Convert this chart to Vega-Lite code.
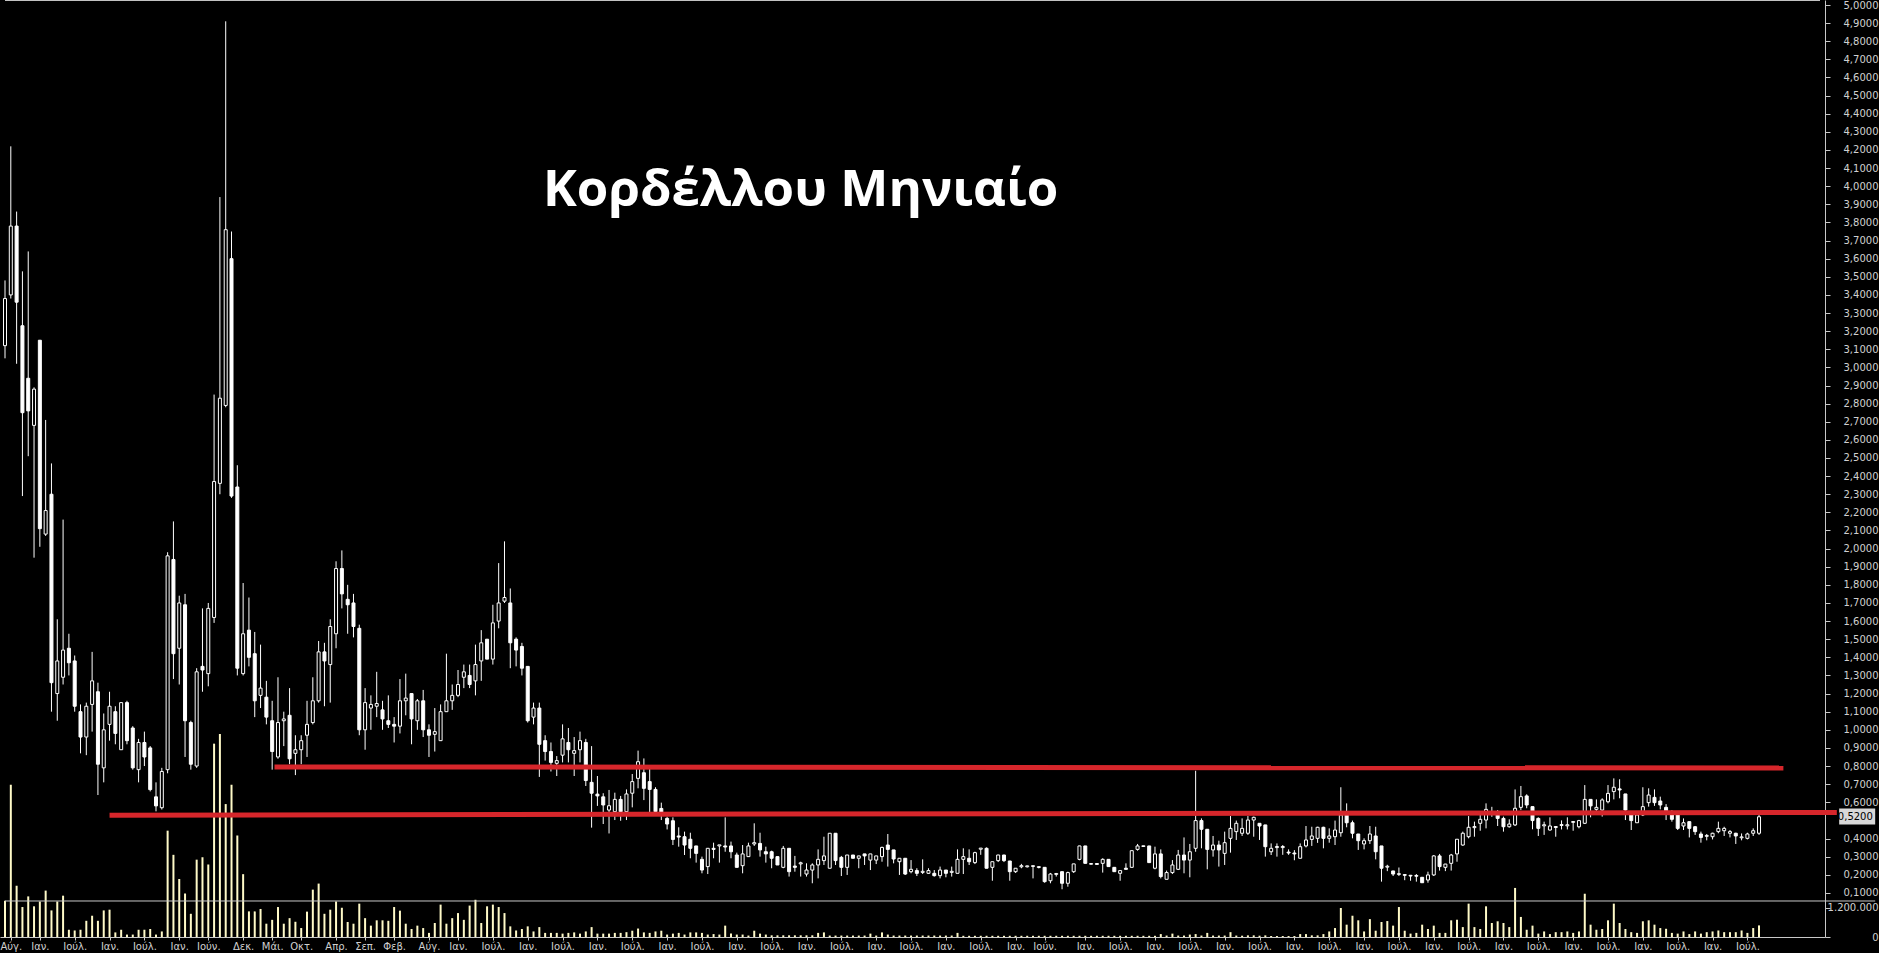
{
"$schema": "https://vega.github.io/schema/vega-lite/v6.json",
"width": 1825, "height": 937, "autosize": "none",
"padding": {"left": 0, "top": 0, "right": 54, "bottom": 16},
"background": "#000000",
"config": {"view": {"stroke": null}},
"datasets": {
"bars": [
{"i":0,"o":3.12,"h":3.48,"l":3.05,"c":3.38,"v":1500000},
{"i":1,"o":3.40,"h":4.22,"l":3.38,"c":3.78,"v":6300000},
{"i":2,"o":3.78,"h":3.86,"l":3.02,"c":3.36,"v":2120000},
{"i":3,"o":3.23,"h":3.53,"l":2.29,"c":2.75,"v":1240000},
{"i":4,"o":2.94,"h":3.64,"l":2.51,"c":2.76,"v":1680000},
{"i":5,"o":2.68,"h":2.89,"l":1.95,"c":2.88,"v":1270000},
{"i":6,"o":3.15,"h":3.15,"l":2.01,"c":2.11,"v":1470000},
{"i":7,"o":2.08,"h":2.71,"l":2.07,"c":2.21,"v":1920000},
{"i":8,"o":2.30,"h":2.47,"l":1.10,"c":1.26,"v":1100000},
{"i":9,"o":1.20,"h":1.61,"l":1.05,"c":1.38,"v":1470000},
{"i":10,"o":1.29,"h":2.16,"l":1.25,"c":1.44,"v":1710000},
{"i":11,"o":1.45,"h":1.53,"l":1.30,"c":1.37,"v":300000},
{"i":12,"o":1.38,"h":1.41,"l":1.10,"c":1.13,"v":270000},
{"i":13,"o":1.10,"h":1.14,"l":0.87,"c":0.96,"v":300000},
{"i":14,"o":0.96,"h":1.15,"l":0.86,"c":1.13,"v":670000},
{"i":15,"o":1.14,"h":1.43,"l":0.99,"c":1.27,"v":880000},
{"i":16,"o":1.21,"h":1.26,"l":0.64,"c":0.81,"v":670000},
{"i":17,"o":0.79,"h":1.09,"l":0.71,"c":1.00,"v":1100000},
{"i":18,"o":1.03,"h":1.21,"l":0.94,"c":1.13,"v":1130000},
{"i":19,"o":1.10,"h":1.13,"l":0.92,"c":0.98,"v":190000},
{"i":20,"o":0.89,"h":1.15,"l":0.89,"c":1.15,"v":300000},
{"i":21,"o":1.15,"h":1.16,"l":0.92,"c":0.94,"v":100000},
{"i":22,"o":1.01,"h":1.02,"l":0.78,"c":0.79,"v":100000},
{"i":23,"o":0.78,"h":0.95,"l":0.71,"c":0.93,"v":300000},
{"i":24,"o":0.93,"h":0.99,"l":0.80,"c":0.85,"v":300000},
{"i":25,"o":0.90,"h":0.91,"l":0.66,"c":0.67,"v":330000},
{"i":26,"o":0.63,"h":0.71,"l":0.55,"c":0.58,"v":100000},
{"i":27,"o":0.57,"h":0.79,"l":0.56,"c":0.77,"v":230000},
{"i":28,"o":0.78,"h":1.98,"l":0.76,"c":1.96,"v":4400000},
{"i":29,"o":1.94,"h":2.15,"l":1.28,"c":1.42,"v":3400000},
{"i":30,"o":1.45,"h":1.74,"l":1.25,"c":1.70,"v":2400000},
{"i":31,"o":1.69,"h":1.75,"l":0.85,"c":1.05,"v":1800000},
{"i":32,"o":1.04,"h":1.05,"l":0.78,"c":0.81,"v":960000},
{"i":33,"o":0.80,"h":1.34,"l":0.79,"c":1.32,"v":3200000},
{"i":34,"o":1.35,"h":1.67,"l":1.21,"c":1.33,"v":3300000},
{"i":35,"o":1.31,"h":1.70,"l":1.24,"c":1.67,"v":3000000},
{"i":36,"o":1.62,"h":2.85,"l":1.59,"c":2.37,"v":8000000},
{"i":37,"o":2.36,"h":3.94,"l":2.30,"c":2.83,"v":8400000},
{"i":38,"o":2.79,"h":4.91,"l":2.78,"c":3.76,"v":5500000},
{"i":39,"o":3.60,"h":3.75,"l":2.28,"c":2.29,"v":6300000},
{"i":40,"o":2.34,"h":2.46,"l":1.30,"c":1.34,"v":4200000},
{"i":41,"o":1.31,"h":1.81,"l":1.30,"c":1.53,"v":2600000},
{"i":42,"o":1.55,"h":1.73,"l":1.35,"c":1.40,"v":1060000},
{"i":43,"o":1.42,"h":1.54,"l":1.07,"c":1.16,"v":1060000},
{"i":44,"o":1.19,"h":1.47,"l":1.12,"c":1.23,"v":1160000},
{"i":45,"o":1.18,"h":1.27,"l":1.03,"c":1.07,"v":550000},
{"i":46,"o":1.05,"h":1.16,"l":0.78,"c":0.88,"v":710000},
{"i":47,"o":0.85,"h":1.29,"l":0.84,"c":1.04,"v":1240000},
{"i":48,"o":1.05,"h":1.10,"l":0.91,"c":1.06,"v":550000},
{"i":49,"o":1.08,"h":1.23,"l":0.81,"c":0.84,"v":780000},
{"i":50,"o":0.87,"h":0.97,"l":0.75,"c":0.89,"v":630000},
{"i":51,"o":0.89,"h":0.97,"l":0.81,"c":0.94,"v":370000},
{"i":52,"o":0.97,"h":1.16,"l":0.85,"c":1.03,"v":1050000},
{"i":53,"o":1.04,"h":1.29,"l":1.03,"c":1.16,"v":1960000},
{"i":54,"o":1.16,"h":1.49,"l":1.15,"c":1.43,"v":2210000},
{"i":55,"o":1.43,"h":1.48,"l":1.13,"c":1.38,"v":960000},
{"i":56,"o":1.36,"h":1.61,"l":1.15,"c":1.57,"v":1130000},
{"i":57,"o":1.53,"h":1.93,"l":1.45,"c":1.89,"v":1470000},
{"i":58,"o":1.89,"h":1.99,"l":1.67,"c":1.75,"v":1210000},
{"i":59,"o":1.72,"h":1.80,"l":1.53,"c":1.69,"v":620000},
{"i":60,"o":1.70,"h":1.75,"l":1.51,"c":1.57,"v":550000},
{"i":61,"o":1.56,"h":1.58,"l":0.97,"c":1.00,"v":1380000},
{"i":62,"o":1.00,"h":1.23,"l":0.89,"c":1.15,"v":780000},
{"i":63,"o":1.12,"h":1.19,"l":1.00,"c":1.14,"v":470000},
{"i":64,"o":1.13,"h":1.32,"l":1.07,"c":1.145,"v":690000},
{"i":65,"o":1.11,"h":1.16,"l":1.00,"c":1.06,"v":690000},
{"i":66,"o":1.05,"h":1.19,"l":1.01,"c":1.03,"v":670000},
{"i":67,"o":1.03,"h":1.07,"l":0.93,"c":1.02,"v":1240000},
{"i":68,"o":1.02,"h":1.28,"l":0.98,"c":1.16,"v":1090000},
{"i":69,"o":1.16,"h":1.31,"l":1.08,"c":1.175,"v":550000},
{"i":70,"o":1.20,"h":1.20,"l":0.92,"c":1.06,"v":330000},
{"i":71,"o":1.05,"h":1.17,"l":1.00,"c":1.16,"v":470000},
{"i":72,"o":1.16,"h":1.22,"l":0.96,"c":1.00,"v":370000},
{"i":73,"o":1.00,"h":1.03,"l":0.85,"c":0.97,"v":170000},
{"i":74,"o":0.975,"h":1.12,"l":0.88,"c":0.99,"v":580000},
{"i":75,"o":0.94,"h":1.14,"l":0.94,"c":1.10,"v":1340000},
{"i":76,"o":1.10,"h":1.42,"l":1.10,"c":1.16,"v":550000},
{"i":77,"o":1.16,"h":1.25,"l":1.11,"c":1.19,"v":780000},
{"i":78,"o":1.19,"h":1.33,"l":1.18,"c":1.25,"v":990000},
{"i":79,"o":1.29,"h":1.36,"l":1.23,"c":1.32,"v":710000},
{"i":80,"o":1.30,"h":1.36,"l":1.23,"c":1.25,"v":1300000},
{"i":81,"o":1.27,"h":1.47,"l":1.19,"c":1.36,"v":1540000},
{"i":82,"o":1.38,"h":1.55,"l":1.27,"c":1.48,"v":580000},
{"i":83,"o":1.50,"h":1.50,"l":1.39,"c":1.39,"v":1270000},
{"i":84,"o":1.39,"h":1.69,"l":1.36,"c":1.59,"v":1340000},
{"i":85,"o":1.60,"h":1.92,"l":1.56,"c":1.70,"v":1240000},
{"i":86,"o":1.71,"h":2.04,"l":1.70,"c":1.73,"v":990000},
{"i":87,"o":1.70,"h":1.78,"l":1.34,"c":1.48,"v":440000},
{"i":88,"o":1.50,"h":1.51,"l":1.35,"c":1.44,"v":270000},
{"i":89,"o":1.46,"h":1.48,"l":1.30,"c":1.34,"v":330000},
{"i":90,"o":1.35,"h":1.35,"l":1.04,"c":1.05,"v":440000},
{"i":91,"o":1.07,"h":1.15,"l":1.03,"c":1.12,"v":230000},
{"i":92,"o":1.12,"h":1.15,"l":0.74,"c":0.92,"v":410000},
{"i":93,"o":0.94,"h":0.97,"l":0.83,"c":0.88,"v":170000},
{"i":94,"o":0.88,"h":0.93,"l":0.77,"c":0.82,"v":170000},
{"i":95,"o":0.815,"h":0.855,"l":0.745,"c":0.83,"v":170000},
{"i":96,"o":0.86,"h":1.03,"l":0.82,"c":0.95,"v":140000},
{"i":97,"o":0.93,"h":1.01,"l":0.82,"c":0.89,"v":170000},
{"i":98,"o":0.87,"h":0.96,"l":0.745,"c":0.885,"v":190000},
{"i":99,"o":0.89,"h":0.99,"l":0.82,"c":0.94,"v":140000},
{"i":100,"o":0.93,"h":0.95,"l":0.69,"c":0.72,"v":230000},
{"i":101,"o":0.71,"h":0.91,"l":0.46,"c":0.65,"v":410000},
{"i":102,"o":0.645,"h":0.745,"l":0.58,"c":0.635,"v":140000},
{"i":103,"o":0.63,"h":0.65,"l":0.48,"c":0.585,"v":140000},
{"i":104,"o":0.557,"h":0.668,"l":0.428,"c":0.581,"v":140000},
{"i":105,"o":0.548,"h":0.653,"l":0.502,"c":0.616,"v":170000},
{"i":106,"o":0.616,"h":0.635,"l":0.498,"c":0.548,"v":170000},
{"i":107,"o":0.548,"h":0.671,"l":0.502,"c":0.646,"v":200000},
{"i":108,"o":0.65,"h":0.756,"l":0.572,"c":0.714,"v":260000},
{"i":109,"o":0.732,"h":0.885,"l":0.677,"c":0.824,"v":350000},
{"i":110,"o":0.763,"h":0.842,"l":0.612,"c":0.677,"v":190000},
{"i":111,"o":0.714,"h":0.793,"l":0.539,"c":0.671,"v":170000},
{"i":112,"o":0.671,"h":0.683,"l":0.545,"c":0.548,"v":230000},
{"i":113,"o":0.566,"h":0.598,"l":0.502,"c":0.539,"v":260000},
{"i":114,"o":0.511,"h":0.52,"l":0.45,"c":0.48,"v":100000},
{"i":115,"o":0.498,"h":0.517,"l":0.364,"c":0.395,"v":140000},
{"i":116,"o":0.414,"h":0.462,"l":0.355,"c":0.408,"v":170000},
{"i":117,"o":0.41,"h":0.438,"l":0.309,"c":0.364,"v":100000},
{"i":118,"o":0.396,"h":0.432,"l":0.291,"c":0.346,"v":190000},
{"i":119,"o":0.359,"h":0.359,"l":0.267,"c":0.318,"v":190000},
{"i":120,"o":0.285,"h":0.30,"l":0.208,"c":0.226,"v":170000},
{"i":121,"o":0.245,"h":0.346,"l":0.204,"c":0.346,"v":100000},
{"i":122,"o":0.346,"h":0.377,"l":0.291,"c":0.34,"v":120000},
{"i":123,"o":0.359,"h":0.364,"l":0.267,"c":0.365,"v":100000},
{"i":124,"o":0.359,"h":0.517,"l":0.327,"c":0.353,"v":470000},
{"i":125,"o":0.359,"h":0.383,"l":0.291,"c":0.327,"v":140000},
{"i":126,"o":0.309,"h":0.322,"l":0.241,"c":0.241,"v":100000},
{"i":127,"o":0.25,"h":0.364,"l":0.208,"c":0.315,"v":100000},
{"i":128,"o":0.30,"h":0.377,"l":0.30,"c":0.359,"v":60000},
{"i":129,"o":0.37,"h":0.484,"l":0.359,"c":0.377,"v":260000},
{"i":130,"o":0.373,"h":0.432,"l":0.30,"c":0.337,"v":140000},
{"i":131,"o":0.327,"h":0.355,"l":0.267,"c":0.315,"v":100000},
{"i":132,"o":0.327,"h":0.333,"l":0.236,"c":0.291,"v":70000},
{"i":133,"o":0.30,"h":0.30,"l":0.254,"c":0.254,"v":70000},
{"i":134,"o":0.241,"h":0.359,"l":0.236,"c":0.346,"v":70000},
{"i":135,"o":0.346,"h":0.346,"l":0.19,"c":0.217,"v":70000},
{"i":136,"o":0.248,"h":0.304,"l":0.217,"c":0.241,"v":70000},
{"i":137,"o":0.26,"h":0.272,"l":0.19,"c":0.266,"v":70000},
{"i":138,"o":0.204,"h":0.263,"l":0.19,"c":0.226,"v":70000},
{"i":139,"o":0.226,"h":0.263,"l":0.153,"c":0.254,"v":70000},
{"i":140,"o":0.254,"h":0.34,"l":0.18,"c":0.285,"v":170000},
{"i":141,"o":0.278,"h":0.41,"l":0.254,"c":0.304,"v":190000},
{"i":142,"o":0.236,"h":0.429,"l":0.236,"c":0.429,"v":60000},
{"i":143,"o":0.429,"h":0.429,"l":0.254,"c":0.278,"v":60000},
{"i":144,"o":0.296,"h":0.304,"l":0.193,"c":0.241,"v":60000},
{"i":145,"o":0.241,"h":0.309,"l":0.199,"c":0.309,"v":60000},
{"i":146,"o":0.309,"h":0.309,"l":0.291,"c":0.291,"v":60000},
{"i":147,"o":0.291,"h":0.304,"l":0.236,"c":0.304,"v":60000},
{"i":148,"o":0.315,"h":0.315,"l":0.254,"c":0.304,"v":60000},
{"i":149,"o":0.281,"h":0.315,"l":0.226,"c":0.315,"v":140000},
{"i":150,"o":0.281,"h":0.304,"l":0.259,"c":0.304,"v":60000},
{"i":151,"o":0.30,"h":0.355,"l":0.272,"c":0.351,"v":190000},
{"i":152,"o":0.364,"h":0.425,"l":0.245,"c":0.34,"v":100000},
{"i":153,"o":0.337,"h":0.337,"l":0.263,"c":0.287,"v":60000},
{"i":154,"o":0.272,"h":0.291,"l":0.199,"c":0.291,"v":60000},
{"i":155,"o":0.291,"h":0.291,"l":0.199,"c":0.204,"v":60000},
{"i":156,"o":0.217,"h":0.281,"l":0.208,"c":0.23,"v":60000},
{"i":157,"o":0.223,"h":0.236,"l":0.193,"c":0.208,"v":60000},
{"i":158,"o":0.213,"h":0.285,"l":0.204,"c":0.219,"v":60000},
{"i":159,"o":0.208,"h":0.236,"l":0.205,"c":0.223,"v":60000},
{"i":160,"o":0.208,"h":0.226,"l":0.19,"c":0.195,"v":60000},
{"i":161,"o":0.195,"h":0.245,"l":0.18,"c":0.226,"v":60000},
{"i":162,"o":0.226,"h":0.226,"l":0.186,"c":0.208,"v":60000},
{"i":163,"o":0.213,"h":0.245,"l":0.19,"c":0.219,"v":60000},
{"i":164,"o":0.208,"h":0.34,"l":0.208,"c":0.285,"v":170000},
{"i":165,"o":0.285,"h":0.346,"l":0.204,"c":0.30,"v":50000},
{"i":166,"o":0.291,"h":0.34,"l":0.254,"c":0.272,"v":50000},
{"i":167,"o":0.267,"h":0.327,"l":0.259,"c":0.322,"v":50000},
{"i":168,"o":0.341,"h":0.346,"l":0.31,"c":0.347,"v":50000},
{"i":169,"o":0.346,"h":0.351,"l":0.236,"c":0.236,"v":50000},
{"i":170,"o":0.241,"h":0.272,"l":0.167,"c":0.272,"v":50000},
{"i":171,"o":0.278,"h":0.31,"l":0.27,"c":0.309,"v":50000},
{"i":172,"o":0.309,"h":0.31,"l":0.27,"c":0.278,"v":50000},
{"i":173,"o":0.276,"h":0.276,"l":0.167,"c":0.217,"v":50000},
{"i":174,"o":0.217,"h":0.236,"l":0.21,"c":0.236,"v":50000},
{"i":175,"o":0.244,"h":0.26,"l":0.236,"c":0.25,"v":50000},
{"i":176,"o":0.244,"h":0.25,"l":0.24,"c":0.249,"v":50000},
{"i":177,"o":0.246,"h":0.25,"l":0.18,"c":0.25,"v":50000},
{"i":178,"o":0.24,"h":0.245,"l":0.235,"c":0.245,"v":50000},
{"i":179,"o":0.241,"h":0.241,"l":0.156,"c":0.162,"v":50000},
{"i":180,"o":0.167,"h":0.21,"l":0.153,"c":0.204,"v":50000},
{"i":181,"o":0.202,"h":0.21,"l":0.19,"c":0.207,"v":50000},
{"i":182,"o":0.217,"h":0.217,"l":0.12,"c":0.153,"v":50000},
{"i":183,"o":0.153,"h":0.217,"l":0.134,"c":0.212,"v":50000},
{"i":184,"o":0.217,"h":0.26,"l":0.21,"c":0.26,"v":50000},
{"i":185,"o":0.285,"h":0.36,"l":0.28,"c":0.359,"v":50000},
{"i":186,"o":0.359,"h":0.359,"l":0.263,"c":0.263,"v":50000},
{"i":187,"o":0.258,"h":0.262,"l":0.256,"c":0.262,"v":50000},
{"i":188,"o":0.262,"h":0.264,"l":0.256,"c":0.257,"v":50000},
{"i":189,"o":0.263,"h":0.291,"l":0.212,"c":0.285,"v":50000},
{"i":190,"o":0.285,"h":0.285,"l":0.245,"c":0.245,"v":50000},
{"i":191,"o":0.241,"h":0.241,"l":0.217,"c":0.217,"v":50000},
{"i":192,"o":0.208,"h":0.223,"l":0.167,"c":0.223,"v":50000},
{"i":193,"o":0.236,"h":0.263,"l":0.23,"c":0.23,"v":50000},
{"i":194,"o":0.241,"h":0.333,"l":0.241,"c":0.333,"v":50000},
{"i":195,"o":0.34,"h":0.37,"l":0.333,"c":0.359,"v":50000},
{"i":196,"o":0.356,"h":0.36,"l":0.355,"c":0.36,"v":50000},
{"i":197,"o":0.359,"h":0.359,"l":0.267,"c":0.267,"v":50000},
{"i":198,"o":0.236,"h":0.355,"l":0.23,"c":0.315,"v":50000},
{"i":199,"o":0.315,"h":0.34,"l":0.18,"c":0.19,"v":120000},
{"i":200,"o":0.175,"h":0.223,"l":0.175,"c":0.212,"v":60000},
{"i":201,"o":0.212,"h":0.281,"l":0.204,"c":0.254,"v":140000},
{"i":202,"o":0.23,"h":0.337,"l":0.226,"c":0.309,"v":60000},
{"i":203,"o":0.309,"h":0.406,"l":0.208,"c":0.281,"v":60000},
{"i":204,"o":0.281,"h":0.37,"l":0.186,"c":0.327,"v":100000},
{"i":205,"o":0.346,"h":0.774,"l":0.327,"c":0.499,"v":120000},
{"i":206,"o":0.499,"h":0.511,"l":0.346,"c":0.451,"v":60000},
{"i":207,"o":0.451,"h":0.451,"l":0.23,"c":0.34,"v":170000},
{"i":208,"o":0.337,"h":0.414,"l":0.30,"c":0.364,"v":60000},
{"i":209,"o":0.364,"h":0.388,"l":0.245,"c":0.337,"v":60000},
{"i":210,"o":0.318,"h":0.438,"l":0.254,"c":0.377,"v":60000},
{"i":211,"o":0.401,"h":0.524,"l":0.322,"c":0.456,"v":200000},
{"i":212,"o":0.438,"h":0.499,"l":0.392,"c":0.484,"v":60000},
{"i":213,"o":0.429,"h":0.511,"l":0.414,"c":0.456,"v":54000},
{"i":214,"o":0.429,"h":0.524,"l":0.42,"c":0.502,"v":68000},
{"i":215,"o":0.502,"h":0.521,"l":0.41,"c":0.517,"v":68000},
{"i":216,"o":0.484,"h":0.484,"l":0.392,"c":0.469,"v":54000},
{"i":217,"o":0.475,"h":0.475,"l":0.30,"c":0.355,"v":68000},
{"i":218,"o":0.327,"h":0.373,"l":0.309,"c":0.346,"v":40000},
{"i":219,"o":0.35,"h":0.373,"l":0.30,"c":0.356,"v":40000},
{"i":220,"o":0.35,"h":0.364,"l":0.31,"c":0.356,"v":40000},
{"i":221,"o":0.325,"h":0.34,"l":0.31,"c":0.32,"v":40000},
{"i":222,"o":0.32,"h":0.336,"l":0.28,"c":0.315,"v":40000},
{"i":223,"o":0.291,"h":0.373,"l":0.291,"c":0.355,"v":120000},
{"i":224,"o":0.359,"h":0.469,"l":0.351,"c":0.392,"v":120000},
{"i":225,"o":0.395,"h":0.465,"l":0.359,"c":0.414,"v":68000},
{"i":226,"o":0.401,"h":0.465,"l":0.376,"c":0.462,"v":68000},
{"i":227,"o":0.462,"h":0.465,"l":0.346,"c":0.401,"v":120000},
{"i":228,"o":0.401,"h":0.456,"l":0.377,"c":0.414,"v":230000},
{"i":229,"o":0.41,"h":0.499,"l":0.364,"c":0.447,"v":370000},
{"i":230,"o":0.432,"h":0.683,"l":0.41,"c":0.53,"v":1200000},
{"i":231,"o":0.53,"h":0.594,"l":0.462,"c":0.487,"v":510000},
{"i":232,"o":0.487,"h":0.499,"l":0.401,"c":0.429,"v":880000},
{"i":233,"o":0.425,"h":0.425,"l":0.337,"c":0.388,"v":690000},
{"i":234,"o":0.37,"h":0.401,"l":0.34,"c":0.388,"v":230000},
{"i":235,"o":0.388,"h":0.469,"l":0.37,"c":0.425,"v":740000},
{"i":236,"o":0.414,"h":0.465,"l":0.285,"c":0.327,"v":260000},
{"i":237,"o":0.359,"h":0.359,"l":0.162,"c":0.236,"v":620000},
{"i":238,"o":0.242,"h":0.255,"l":0.22,"c":0.247,"v":660000},
{"i":239,"o":0.221,"h":0.221,"l":0.193,"c":0.204,"v":470000},
{"i":240,"o":0.202,"h":0.24,"l":0.193,"c":0.206,"v":1240000},
{"i":241,"o":0.201,"h":0.204,"l":0.17,"c":0.197,"v":260000},
{"i":242,"o":0.197,"h":0.199,"l":0.167,"c":0.193,"v":140000},
{"i":243,"o":0.196,"h":0.204,"l":0.162,"c":0.192,"v":170000},
{"i":244,"o":0.186,"h":0.186,"l":0.156,"c":0.156,"v":510000},
{"i":245,"o":0.171,"h":0.217,"l":0.156,"c":0.199,"v":330000},
{"i":246,"o":0.199,"h":0.309,"l":0.193,"c":0.304,"v":470000},
{"i":247,"o":0.304,"h":0.315,"l":0.223,"c":0.245,"v":170000},
{"i":248,"o":0.241,"h":0.26,"l":0.22,"c":0.259,"v":170000},
{"i":249,"o":0.263,"h":0.315,"l":0.223,"c":0.309,"v":690000},
{"i":250,"o":0.315,"h":0.396,"l":0.272,"c":0.396,"v":710000},
{"i":251,"o":0.364,"h":0.438,"l":0.36,"c":0.429,"v":410000},
{"i":252,"o":0.41,"h":0.524,"l":0.401,"c":0.462,"v":1380000},
{"i":253,"o":0.46,"h":0.493,"l":0.41,"c":0.466,"v":410000},
{"i":254,"o":0.484,"h":0.53,"l":0.443,"c":0.506,"v":330000},
{"i":255,"o":0.502,"h":0.594,"l":0.456,"c":0.561,"v":1270000},
{"i":256,"o":0.539,"h":0.575,"l":0.52,"c":0.545,"v":580000},
{"i":257,"o":0.548,"h":0.557,"l":0.469,"c":0.511,"v":650000},
{"i":258,"o":0.511,"h":0.521,"l":0.438,"c":0.465,"v":580000},
{"i":259,"o":0.465,"h":0.506,"l":0.46,"c":0.48,"v":410000},
{"i":260,"o":0.475,"h":0.671,"l":0.469,"c":0.567,"v":2030000},
{"i":261,"o":0.572,"h":0.69,"l":0.557,"c":0.631,"v":830000},
{"i":262,"o":0.635,"h":0.644,"l":0.567,"c":0.585,"v":300000},
{"i":263,"o":0.576,"h":0.576,"l":0.451,"c":0.499,"v":470000},
{"i":264,"o":0.511,"h":0.517,"l":0.414,"c":0.456,"v":140000},
{"i":265,"o":0.47,"h":0.493,"l":0.42,"c":0.476,"v":230000},
{"i":266,"o":0.447,"h":0.517,"l":0.443,"c":0.469,"v":120000},
{"i":267,"o":0.466,"h":0.468,"l":0.41,"c":0.461,"v":200000},
{"i":268,"o":0.472,"h":0.5,"l":0.45,"c":0.477,"v":200000},
{"i":269,"o":0.47,"h":0.517,"l":0.45,"c":0.476,"v":230000},
{"i":270,"o":0.489,"h":0.495,"l":0.443,"c":0.494,"v":170000},
{"i":271,"o":0.465,"h":0.503,"l":0.456,"c":0.499,"v":230000},
{"i":272,"o":0.484,"h":0.695,"l":0.48,"c":0.616,"v":1790000},
{"i":273,"o":0.616,"h":0.616,"l":0.517,"c":0.58,"v":510000},
{"i":274,"o":0.561,"h":0.616,"l":0.539,"c":0.572,"v":300000},
{"i":275,"o":0.557,"h":0.622,"l":0.521,"c":0.613,"v":330000},
{"i":276,"o":0.603,"h":0.695,"l":0.594,"c":0.649,"v":690000},
{"i":277,"o":0.659,"h":0.732,"l":0.616,"c":0.683,"v":1380000},
{"i":278,"o":0.674,"h":0.727,"l":0.622,"c":0.668,"v":580000},
{"i":279,"o":0.646,"h":0.646,"l":0.502,"c":0.557,"v":330000},
{"i":280,"o":0.53,"h":0.53,"l":0.447,"c":0.499,"v":200000},
{"i":281,"o":0.487,"h":0.53,"l":0.487,"c":0.53,"v":170000},
{"i":282,"o":0.53,"h":0.683,"l":0.524,"c":0.576,"v":650000},
{"i":283,"o":0.598,"h":0.677,"l":0.576,"c":0.64,"v":690000},
{"i":284,"o":0.627,"h":0.671,"l":0.58,"c":0.598,"v":510000},
{"i":285,"o":0.607,"h":0.631,"l":0.561,"c":0.585,"v":370000},
{"i":286,"o":0.572,"h":0.59,"l":0.502,"c":0.548,"v":340000},
{"i":287,"o":0.53,"h":0.557,"l":0.493,"c":0.506,"v":170000},
{"i":288,"o":0.53,"h":0.53,"l":0.447,"c":0.456,"v":140000},
{"i":289,"o":0.469,"h":0.511,"l":0.447,"c":0.487,"v":230000},
{"i":290,"o":0.493,"h":0.493,"l":0.406,"c":0.456,"v":120000},
{"i":291,"o":0.465,"h":0.469,"l":0.42,"c":0.438,"v":230000},
{"i":292,"o":0.425,"h":0.438,"l":0.377,"c":0.406,"v":140000},
{"i":293,"o":0.412,"h":0.425,"l":0.39,"c":0.417,"v":200000},
{"i":294,"o":0.41,"h":0.432,"l":0.395,"c":0.429,"v":230000},
{"i":295,"o":0.438,"h":0.493,"l":0.429,"c":0.456,"v":270000},
{"i":296,"o":0.443,"h":0.465,"l":0.414,"c":0.456,"v":200000},
{"i":297,"o":0.429,"h":0.447,"l":0.406,"c":0.438,"v":200000},
{"i":298,"o":0.429,"h":0.432,"l":0.37,"c":0.414,"v":200000},
{"i":299,"o":0.404,"h":0.428,"l":0.39,"c":0.409,"v":270000},
{"i":300,"o":0.401,"h":0.432,"l":0.395,"c":0.425,"v":170000},
{"i":301,"o":0.429,"h":0.456,"l":0.414,"c":0.443,"v":370000},
{"i":302,"o":0.429,"h":0.53,"l":0.42,"c":0.52,"v":480000}
],
"levels": [
{"a": 46.4, "b": 306.2, "p": 0.795, "q": 0.789},
{"a": 18, "b": 315.4, "p": 0.529, "q": 0.544}
]
},
"layer": [
{
"data": {"name": "bars"},
"mark": {"type": "bar", "size": 2, "color": "#fffac8"},
"encoding": {
"x": {"field": "i", "type": "quantitative", "scale": {"domain": [0, 312.5], "nice": false, "zero": false},
"axis": {"orient": "bottom", "title": null, "grid": false,
"values": [1,6,12,18,24,30,35,41,46,51,57,62,67,73,78,84,90,96,102,108,114,120,126,132,138,144,150,156,162,168,174,179,186,192,198,204,210,216,222,228,234,240,246,252,258,264,270,276,282,288,294,300],
"labelExpr": "['Ιούλ.','Αύγ.','Σεπ.','Οκτ.','Νοέ.','Δεκ.','Ιαν.','Φεβ.','Μάρ.','Απρ.','Μάι.','Ιούν.'][datum.value % 12]",
"domainColor": "#c8c8c8", "tickColor": "#c8c8c8", "tickSize": 3,
"labelColor": "#d0d0d0", "labelFont": "DejaVu Sans", "labelFontSize": 10, "labelPadding": 1, "labelDx": 6,
"labelOverlap": false, "labelFlush": false, "labelBound": false}},
"y": {"field": "v", "type": "quantitative", "scale": {"domain": [0, 38771000], "nice": false, "zero": true},
"axis": {"orient": "right", "title": null, "grid": false, "domain": false, "values": [0, 1200000],
"labelExpr": "datum.value == 0 ? '0' : '1.200.000'",
"tickColor": "#c8c8c8", "tickSize": 5, "labelAlign": "right", "labelPadding": 48, "labelBaseline": "middle",
"labelColor": "#d0d0d0", "labelFont": "DejaVu Sans", "labelFontSize": 10, "labelOverlap": false, "labelBound": false, "labelFlush": false}}
}
},
{
"layer": [
{
"data": {"name": "bars"},
"mark": {"type": "rule", "color": "#ffffff", "strokeWidth": 1},
"encoding": {
"x": {"field": "i", "type": "quantitative", "scale": {"domain": [0, 312.5], "nice": false, "zero": false}, "axis": null},
"y": {"field": "l", "type": "quantitative", "scale": {"domain": [-0.1435, 5.0276], "nice": false, "zero": false},
"axis": {"orient": "right", "title": null, "grid": false,
"values": [0.1,0.2,0.3,0.4,0.6,0.7,0.8,0.9,1.0,1.1,1.2,1.3,1.4,1.5,1.6,1.7,1.8,1.9,2.0,2.1,2.2,2.3,2.4,2.5,2.6,2.7,2.8,2.9,3.0,3.1,3.2,3.3,3.4,3.5,3.6,3.7,3.8,3.9,4.0,4.1,4.2,4.3,4.4,4.5,4.6,4.7,4.8,4.9,5.0],
"labelExpr": "replace(format(datum.value, '.4f'), '.', ',')",
"domainColor": "#c8c8c8", "tickColor": "#c8c8c8", "tickSize": 5, "labelAlign": "right", "labelPadding": 48, "labelBaseline": "middle",
"labelColor": "#d0d0d0", "labelFont": "DejaVu Sans", "labelFontSize": 10, "labelOverlap": false, "labelBound": false, "labelFlush": false}},
"y2": {"field": "h"}
}
},
{
"data": {"name": "bars"},
"mark": {"type": "bar", "size": 3, "stroke": "#ffffff", "strokeWidth": 1},
"encoding": {
"x": {"field": "i", "type": "quantitative", "scale": {"domain": [0, 312.5], "nice": false, "zero": false}, "axis": null},
"y": {"field": "o", "type": "quantitative", "scale": {"domain": [-0.1435, 5.0276], "nice": false, "zero": false}, "axis": null},
"y2": {"field": "c"},
"fill": {"condition": {"test": "datum.c >= datum.o", "value": "#000000"}, "value": "#ffffff"}
}
},
{
"data": {"values": [{}]},
"mark": {"type": "rule", "color": "#c8c8c8", "strokeWidth": 1},
"encoding": {
"x": {"datum": 0, "type": "quantitative", "scale": {"domain": [0, 312.5], "nice": false, "zero": false}, "axis": null},
"x2": {"datum": 322},
"y": {"datum": 0.0552, "type": "quantitative", "scale": {"domain": [-0.1435, 5.0276], "nice": false, "zero": false}, "axis": null}
}
},
{
"data": {"values": [{}]},
"mark": {"type": "rule", "color": "#c8c8c8", "strokeWidth": 1},
"encoding": {
"x": {"datum": 0, "type": "quantitative", "scale": {"domain": [0, 312.5], "nice": false, "zero": false}, "axis": null},
"x2": {"datum": 312.5},
"y": {"datum": 5.025, "type": "quantitative", "scale": {"domain": [-0.1435, 5.0276], "nice": false, "zero": false}, "axis": null}
}
},
{
"data": {"name": "levels"},
"mark": {"type": "rule", "color": "#d6262b", "strokeWidth": 5},
"encoding": {
"x": {"field": "a", "type": "quantitative", "scale": {"domain": [0, 312.5], "nice": false, "zero": false}, "axis": null},
"x2": {"field": "b"},
"y": {"field": "p", "type": "quantitative", "scale": {"domain": [-0.1435, 5.0276], "nice": false, "zero": false}, "axis": null},
"y2": {"field": "q"}
}
},
{
"data": {"values": [{}]},
"mark": {"type": "rect", "color": "#d8d8d8"},
"encoding": {
"x": {"datum": 315.8, "type": "quantitative", "scale": {"domain": [0, 312.5], "nice": false, "zero": false}, "axis": null},
"x2": {"datum": 322},
"y": {"datum": 0.565, "type": "quantitative", "scale": {"domain": [-0.1435, 5.0276], "nice": false, "zero": false}, "axis": null},
"y2": {"datum": 0.477}
}
},
{
"data": {"values": [{"t": "0,5200"}]},
"mark": {"type": "text", "color": "#000000", "font": "DejaVu Sans", "fontSize": 10, "align": "right", "baseline": "middle"},
"encoding": {
"text": {"field": "t"},
"x": {"datum": 321.6, "type": "quantitative", "scale": {"domain": [0, 312.5], "nice": false, "zero": false}, "axis": null},
"y": {"datum": 0.52, "type": "quantitative", "scale": {"domain": [-0.1435, 5.0276], "nice": false, "zero": false}, "axis": null}
}
},
{
"data": {"values": [{"t": "Κορδέλλου Μηνιαίο"}]},
"mark": {"type": "text", "color": "#ffffff", "font": "Open Sans", "fontWeight": "bold", "fontSize": 51, "align": "center", "baseline": "alphabetic"},
"encoding": {
"text": {"field": "t"},
"x": {"datum": 137, "type": "quantitative", "scale": {"domain": [0, 312.5], "nice": false, "zero": false}, "axis": null},
"y": {"datum": 3.89, "type": "quantitative", "scale": {"domain": [-0.1435, 5.0276], "nice": false, "zero": false}, "axis": null}
}
}
],
"resolve": {"axis": {"x": "independent", "y": "independent"}}
}
],
"resolve": {"scale": {"y": "independent"}, "axis": {"x": "independent", "y": "independent"}}
}
